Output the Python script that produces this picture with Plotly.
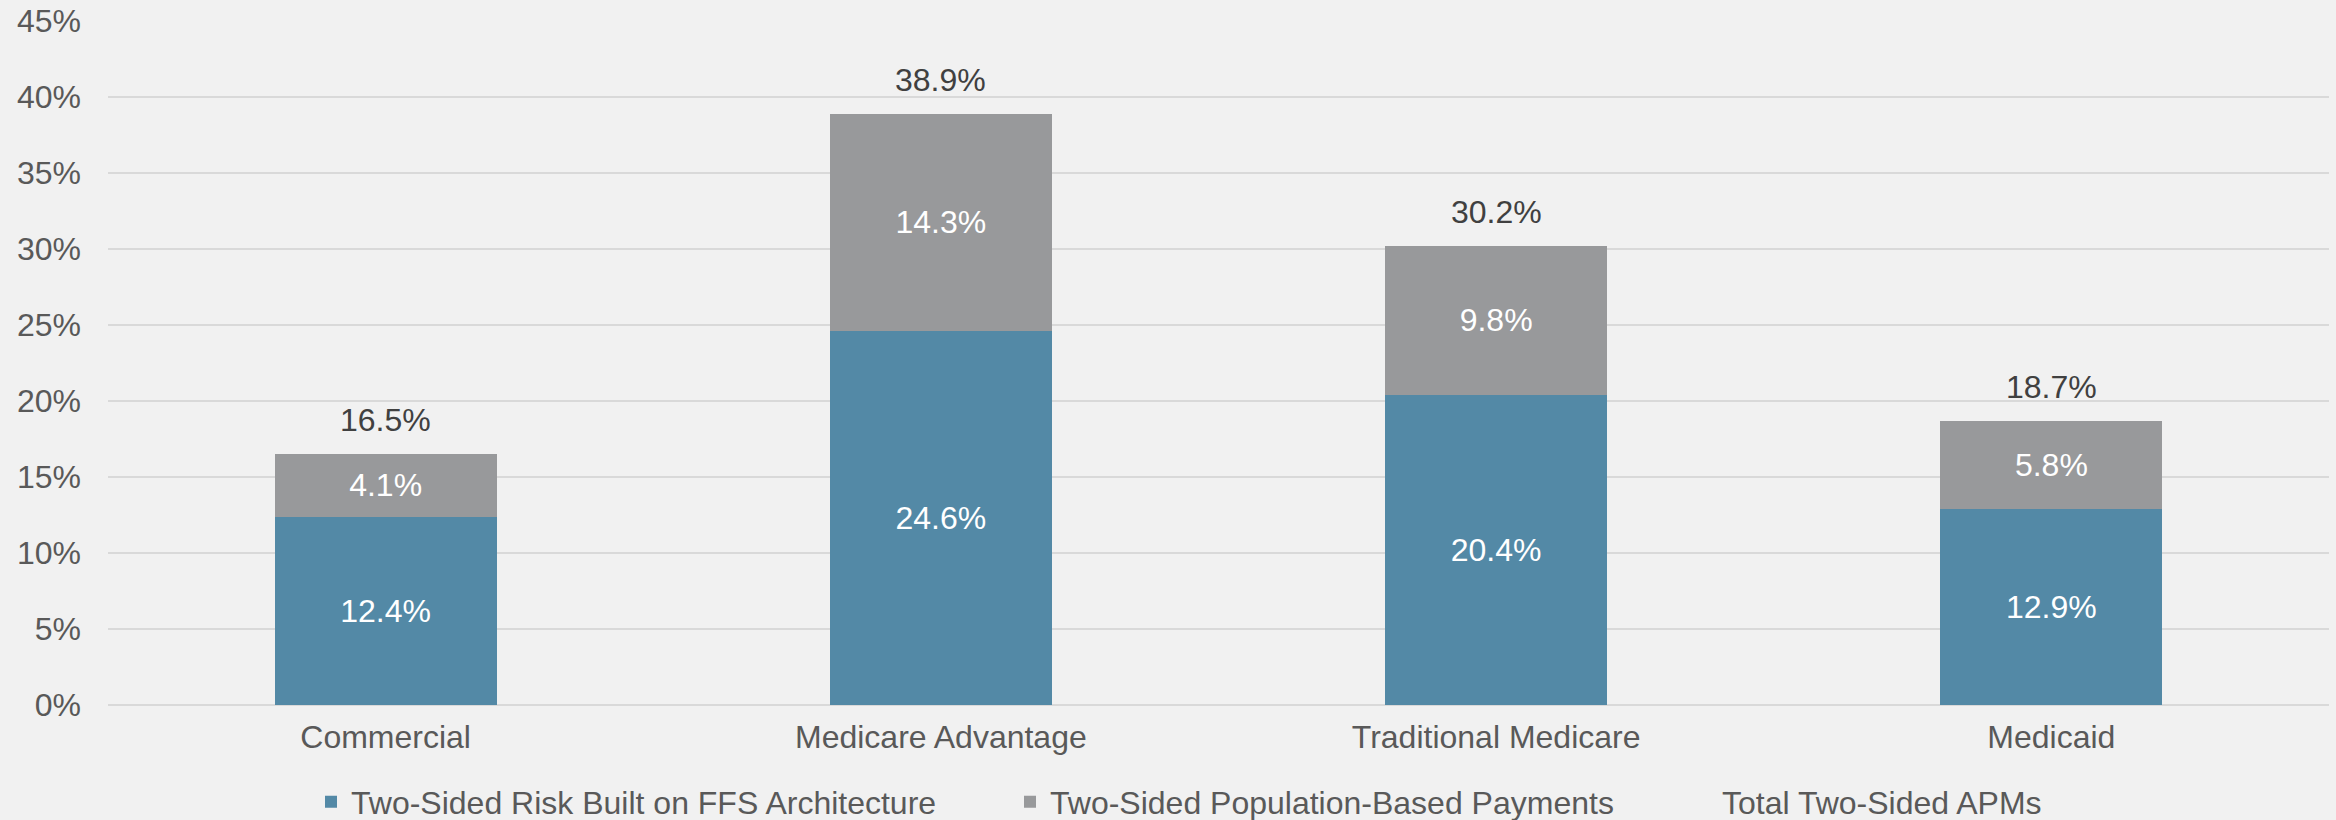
import plotly.graph_objects as go

categories = ["Commercial", "Medicare Advantage", "Traditional Medicare", "Medicaid"]
ffs_risk = [12.4, 24.6, 20.4, 12.9]
pop_based = [4.1, 14.3, 9.8, 5.8]
totals = [16.5, 38.9, 30.2, 18.7]
y_ticks = [0, 5, 10, 15, 20, 25, 30, 35, 40, 45]
y_tick_labels = [f"{v}%" for v in y_ticks]

FONT = "Liberation Sans, Arial, sans-serif"
FS = 32
BLUE = "#5389A6"
GREY = "#98999B"
W, H = 2336, 820

fig = go.Figure()
fig.add_trace(go.Bar(
    x=categories, y=ffs_risk, name="Two-Sided Risk Built on FFS Architecture",
    marker=dict(color=BLUE, line=dict(width=0)), legend="legend",
    text=[f"{v}%" for v in ffs_risk], textposition="inside", insidetextanchor="middle",
    textangle=0, textfont=dict(color="white", size=FS, family=FONT),
))
fig.add_trace(go.Bar(
    x=categories, y=pop_based, name="Two-Sided Population-Based Payments",
    marker=dict(color=GREY, line=dict(width=0)), legend="legend2",
    text=[f"{v}%" for v in pop_based], textposition="inside", insidetextanchor="middle",
    textangle=0, textfont=dict(color="white", size=FS, family=FONT),
))
# legend-only entry for totals (no visible symbol)
fig.add_trace(go.Scatter(
    x=[None], y=[None], mode="markers", name="Total Two-Sided APMs", legend="legend3",
    marker=dict(color="rgba(0,0,0,0)", size=1),
))

for c, t in zip(categories, totals):
    fig.add_annotation(x=c, y=t, text=f"{t}%", showarrow=False, yanchor="bottom",
                       yshift=14, font=dict(size=FS, color="#404040", family=FONT))

def leg(xpx):
    return dict(orientation="h", x=xpx / W, xanchor="left", xref="container",
                y=18 / H, yanchor="middle", yref="container",
                font=dict(size=FS, color="#595959", family=FONT), itemwidth=30,
                bgcolor="rgba(0,0,0,0)", borderwidth=0)

fig.update_layout(
    width=W, height=H,
    barmode="stack", bargap=0.6,
    paper_bgcolor="#f1f1f1", plot_bgcolor="#f1f1f1",
    margin=dict(l=108, r=7, t=21, b=115, autoexpand=False),
    font=dict(family=FONT, size=FS, color="#595959"),
    showlegend=True,
    legend=leg(311), legend2=leg(1010), legend3=leg(1682),
    xaxis=dict(showgrid=False, showline=False, ticks="", ticklabelstandoff=10,
               tickfont=dict(size=FS, color="#595959")),
    yaxis=dict(range=[0, 45], tickvals=y_ticks, ticktext=y_tick_labels,
               showgrid=True, gridcolor="#d9d9d9", gridwidth=2,
               zeroline=True, zerolinecolor="#d9d9d9", zerolinewidth=2,
               showline=False, ticks="", ticklabelstandoff=26,
               tickfont=dict(size=FS, color="#595959")),
)

fig.write_html("out.html")
